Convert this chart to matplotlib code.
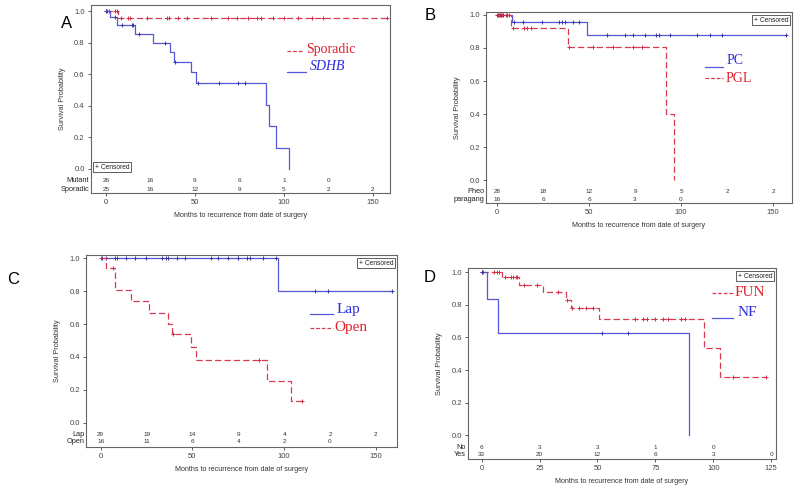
import numpy as np
import matplotlib
matplotlib.use("Agg")
import matplotlib.pyplot as plt
from matplotlib.lines import Line2D
from matplotlib.ticker import FormatStrFormatter

plt.rcParams['font.family'] = ['Liberation Sans', 'DejaVu Sans']

BLUE = '#5656d8'
BLUE_MARK = '#3a3aa8'
RED = '#d83a52'
RED_MARK = '#d0304a'
BLUE_TXT = '#2b2be0'
RED_TXT = '#e0202c'

# ---- panel A : Sporadic vs SDHB
a_sdhb_t = [0, 2.2, 6.4, 16.2, 26.3, 36.1, 38, 48, 50.8, 90, 91.6, 95.8, 102.8]
a_sdhb_s = [1.0, 0.96, 0.913, 0.857, 0.80, 0.74, 0.68, 0.615, 0.545, 0.405, 0.27, 0.135, 0.0]
a_sdhb_c = [0.3, 5.1, 9.2, 14.4, 15.3, 18.7, 33.1, 39, 52, 63.4, 74.3, 78.4]
a_spor_t = [0, 7.0, 157.9]
a_spor_s = [1.0, 0.955, 0.955]
a_spor_c = [0.2, 0.8, 1.5, 5.1, 6.0, 8.3, 12.5, 13.5, 23.2, 34.1, 35.4, 40.6, 45.3,
            58.8, 68.5, 73.4, 80, 85, 87.2, 93.8, 100, 107.9, 115.7, 121.9, 157.9]
a_risk_x = [0, 25, 50, 75, 100, 125, 150]
a_risk_mut = [26, 16, 9, 6, 1, 0]
a_risk_spor = [25, 16, 12, 9, 5, 2, 2]

# ---- panel B : PC vs PGL
b_pc_t = [0, 8.0, 48.7, 157]
b_pc_s = [1.0, 0.955, 0.877, 0.877]
b_pc_c = [0.2, 1.3, 2.2, 3.1, 5.3, 9.4, 14, 24.3, 33.7, 35.1, 37, 41.5, 44.6,
          59.6, 69.6, 74.1, 80.4, 86.4, 88.2, 94, 108.5, 115.8, 122.1, 157]
b_pgl_t = [0, 7.4, 38.8, 91.8, 96.2]
b_pgl_s = [1.0, 0.92, 0.805, 0.40, 0.0]
b_pgl_c = [0.4, 1.8, 2.6, 5.0, 6.5, 8.9, 14.7, 16.1, 18.3, 39.2, 52, 63.2, 74.1, 78.6]
b_risk_x = [0, 25, 50, 75, 100, 125, 150]
b_risk_pheo = [28, 18, 12, 9, 5, 2, 2]
b_risk_para = [16, 6, 6, 3, 0]

# ---- panel C : Lap vs Open
c_lap_t = [0, 96.8, 158.9]
c_lap_s = [1.0, 0.80, 0.80]
c_lap_c = [0.5, 2.9, 7.8, 9.1, 13.8, 18.7, 24.5, 33.6, 35.4, 36.9, 41.8, 45.9,
           59.9, 64.1, 69.2, 74.6, 75, 79.5, 81.3, 88.6, 95.5, 116.8, 123.7, 158.9]
c_open_t = [0, 2.9, 7.8, 16.5, 26.3, 36.9, 39, 49.2, 51.9, 90.4, 103.7, 109.5]
c_open_s = [1.0, 0.94, 0.805, 0.74, 0.67, 0.60, 0.537, 0.46, 0.38, 0.255, 0.13, 0.13]
c_open_c = [0.2, 6.5, 39.6, 86.4, 109.5]
c_risk_x = [0, 25, 50, 75, 100, 125, 150]
c_risk_lap = [29, 19, 14, 9, 4, 2, 2]
c_risk_open = [16, 11, 6, 4, 2, 0]

# ---- panel D : FUN vs NF
d_nf_t = [0, 2.4, 7.2, 89.7]
d_nf_s = [1.0, 0.833, 0.625, 0.0]
d_nf_c = [0.3, 52.1, 63.4]
d_fun_t = [0, 8.6, 16.1, 26.4, 36.3, 38.5, 50.8, 96.1, 103, 122.8]
d_fun_s = [1.0, 0.967, 0.92, 0.877, 0.83, 0.778, 0.71, 0.533, 0.355, 0.355]
d_fun_c = [0.3, 0.7, 5.5, 6.5, 7.5, 10.1, 12.7, 13.7, 14.7, 15.4, 18.3, 24.0, 33.1,
           36.7, 39.2, 42, 45.1, 48, 66.2, 69.8, 71.3, 74.9, 78.5, 80.6, 86.1, 87.8,
           108.4, 122.8]
d_risk_x = [0, 25, 50, 75, 100, 125]
d_risk_no = [6, 3, 3, 1, 0]
d_risk_yes = [33, 20, 12, 6, 3, 0]

W, H = 800, 492


def fx(px):
    return px / W


def fy(py):
    return 1 - py / H


def make_axes(fig, l, r, t, b, xlim, ylim, xticks):
    ax = fig.add_axes([fx(l), fy(b), fx(r - l), (b - t) / H])
    ax.set_xlim(xlim)
    ax.set_ylim(ylim)
    ax.set_xticks(xticks)
    ax.set_yticks([0, 0.2, 0.4, 0.6, 0.8, 1.0])
    ax.yaxis.set_major_formatter(FormatStrFormatter('%.1f'))
    ax.tick_params(labelsize=5.5, length=2.5, width=0.6, colors='#444444', pad=2)
    for sp in ax.spines.values():
        sp.set_color('#666666')
        sp.set_linewidth(0.8)
    ax.set_ylabel('Survival Probability', fontsize=5.3, color='#333333', labelpad=6)
    ax.set_xlabel('Months to recurrence from date of surgery', fontsize=5.1,
                  color='#333333', labelpad=4)
    return ax


def draw_km(ax, t, s, cens, color, mark, dashed):
    ls = (0, (5, 2.5)) if dashed else '-'
    ax.step(t, s, where='post', color=color, lw=0.9, linestyle=ls)
    idx = np.searchsorted(t, cens, side='right') - 1
    ys = np.array(s)[idx]
    ax.plot(cens, ys, linestyle='none', marker='+', ms=3.5, mew=0.7, color=mark)


def risk_table(ax, xs, row1, row2, lab1, lab2, y1=-0.072, y2=-0.122):
    tr = ax.get_yaxis_transform()
    for x, v in zip(xs, row1):
        ax.text(x, y1, str(v), fontsize=4.6, ha='center', va='center', color='#333333')
    for x, v in zip(xs, row2):
        ax.text(x, y2, str(v), fontsize=4.6, ha='center', va='center', color='#333333')
    ax.text(-0.006, y1, lab1, transform=tr, fontsize=5.3, ha='right', va='center', color='#222222')
    ax.text(-0.006, y2, lab2, transform=tr, fontsize=5.3, ha='right', va='center', color='#222222')


def censored_box(ax, x, y, ha, va):
    ax.text(x, y, '+ Censored', transform=ax.transAxes, fontsize=4.8, ha=ha, va=va,
            color='#222222',
            bbox=dict(boxstyle='square,pad=0.25', fc='white', ec='#444444', lw=0.6))


def legend_entry(fig, x0, x1, yline, xt, yt, label, color, tcolor, dashed, size, italic=False):
    ls = (0, (3, 1.5)) if dashed else '-'
    fig.add_artist(Line2D([fx(x0), fx(x1)], [fy(yline), fy(yline)], color=color,
                          lw=0.9, linestyle=ls))
    fig.text(fx(xt), fy(yt), label, fontsize=size, color=tcolor, ha='left', va='center',
             family='Liberation Serif', style='italic' if italic else 'normal')


fig = plt.figure(figsize=(8, 4.92), dpi=100)

# A
ax = make_axes(fig, 91, 390, 5, 193, (-8.4, 159.6), (-0.152, 1.038), [0, 50, 100, 150])
draw_km(ax, a_spor_t, a_spor_s, a_spor_c, RED, RED_MARK, True)
draw_km(ax, a_sdhb_t, a_sdhb_s, a_sdhb_c, BLUE, BLUE_MARK, False)
risk_table(ax, a_risk_x, a_risk_mut, a_risk_spor, 'Mutant', 'Sporadic', -0.076, -0.127)
censored_box(ax, 0.012, 0.118, 'left', 'bottom')
legend_entry(fig, 287, 303, 51, 306, 50, 'Sporadic', RED, RED_TXT, True, 10)
legend_entry(fig, 287, 306, 72, 310, 67, 'SDHB', BLUE, BLUE_TXT, False, 10, italic=True)
fig.text(fx(67), fy(24), 'A', fontsize=12, ha='center', va='center')

# B
ax = make_axes(fig, 486, 792, 12, 203, (-6.0, 160.3), (-0.139, 1.018), [0, 50, 100, 150])
draw_km(ax, b_pc_t, b_pc_s, b_pc_c, BLUE, BLUE_MARK, False)
draw_km(ax, b_pgl_t, b_pgl_s, b_pgl_c, RED, RED_MARK, True)
risk_table(ax, b_risk_x, b_risk_pheo, b_risk_para, 'Pheo', 'paragang', -0.067, -0.115)
censored_box(ax, 0.988, 0.975, 'right', 'top')
legend_entry(fig, 705, 723, 67, 727, 61, 'PC', BLUE, BLUE_TXT, False, 10)
legend_entry(fig, 705, 723, 78, 726, 78, 'PGL', RED, RED_TXT, True, 10)
fig.text(fx(430), fy(16), 'B', fontsize=12, ha='center', va='center')

# C
ax = make_axes(fig, 86, 397, 255, 447, (-8.0, 161.5), (-0.148, 1.02), [0, 50, 100, 150])
draw_km(ax, c_lap_t, c_lap_s, c_lap_c, BLUE, BLUE_MARK, False)
draw_km(ax, c_open_t, c_open_s, c_open_c, RED, RED_MARK, True)
risk_table(ax, c_risk_x, c_risk_lap, c_risk_open, 'Lap', 'Open', -0.07, -0.117)
censored_box(ax, 0.988, 0.975, 'right', 'top')
legend_entry(fig, 310, 333, 314, 337, 309, 'Lap', BLUE, BLUE_TXT, False, 11)
legend_entry(fig, 310, 333, 328, 334, 328, 'Open', RED, RED_TXT, True, 11)
fig.text(fx(13), fy(279), 'C', fontsize=12, ha='center', va='center')

# D
ax = make_axes(fig, 468, 776, 268, 459, (-5.9, 127.1), (-0.145, 1.025), [0, 25, 50, 75, 100, 125])
draw_km(ax, d_fun_t, d_fun_s, d_fun_c, RED, RED_MARK, True)
draw_km(ax, d_nf_t, d_nf_s, d_nf_c, BLUE, BLUE_MARK, False)
risk_table(ax, d_risk_x, d_risk_no, d_risk_yes, 'No', 'Yes', -0.072, -0.12)
censored_box(ax, 0.988, 0.975, 'right', 'top')
legend_entry(fig, 712, 733, 293, 735, 293, 'FUN', RED, RED_TXT, True, 11)
legend_entry(fig, 712, 733, 318, 738, 312, 'NF', BLUE, BLUE_TXT, False, 11)
fig.text(fx(430), fy(277), 'D', fontsize=12, ha='center', va='center')

fig.savefig('out.png', dpi=100)
